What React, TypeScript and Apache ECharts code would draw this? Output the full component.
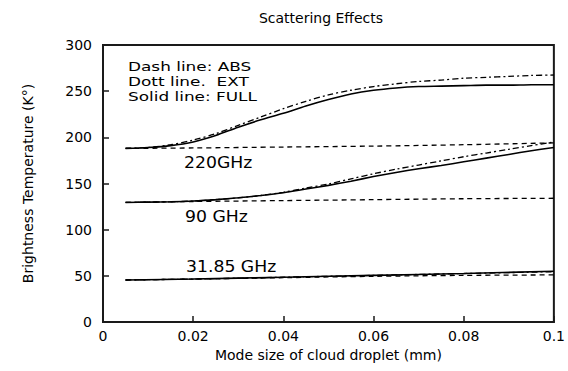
import React, { useEffect, useRef } from "react";
import * as echarts from "echarts";

const X_FINE = [0.005, 0.01, 0.015, 0.02, 0.025, 0.03, 0.035, 0.04, 0.045, 0.05, 0.055, 0.06, 0.065, 0.07, 0.075, 0.08, 0.085, 0.09, 0.095, 0.1];
const X_COARSE = [0.005, 0.02, 0.04, 0.06, 0.08, 0.1];

const full220 = [188, 189, 191, 195, 202, 211, 219, 226, 234, 241, 247, 251, 253.5, 255, 255.5, 256, 256.5, 256.5, 257, 257];
const ext220 = [188, 189, 192, 197, 204, 213, 222, 231, 239, 246, 251, 255, 258, 260.5, 262, 264, 265, 266, 267, 267.5];
const abs220 = [188, 188.5, 189.5, 190.5, 192, 194];

const full90 = [129.5, 129.8, 130.2, 131, 132.5, 134.5, 137, 140, 144, 148, 152.5, 157.5, 162, 166, 169.5, 173.5, 177.5, 181.5, 185.5, 189];
const ext90 = [129.5, 129.8, 130.2, 131, 132.5, 134.5, 137, 140.5, 145, 149.5, 155, 160.5, 165.5, 170, 174.5, 179, 183, 187, 191, 195];
const abs90 = [129.5, 130.5, 131.5, 132.5, 133.5, 134];

const full31 = [45.5, 46.5, 48.5, 50.5, 52.5, 55];
const ext31 = [45.5, 46.5, 48.5, 50.5, 52.5, 54.5];
const abs31 = [45.5, 46.5, 48, 49.5, 50.5, 51];

const legendLines = ["Dash line: ABS", "Dott line.  EXT", "Solid line: FULL"];
const freqLabels = ["220GHz", "90 GHz", "31.85 GHz"];

const FONT = "DejaVu Sans";
const INK = "#1a1a1a";

function pairs(xs: number[], ys: number[]) {
  return xs.map((x, i) => [x, ys[i]]);
}

export default function App() {
  const ref = useRef<HTMLDivElement>(null);
  useEffect(() => {
    if (!ref.current) return;
    const chart = echarts.init(ref.current, null, { renderer: "svg" });
    const solid = { color: "#000", width: 1.6, type: "solid" as const };
    const dash = { color: "#000", width: 1.3, type: [5, 4] as any };
    const dashDot = { color: "#000", width: 1.3, type: [6, 3, 2, 3] as any };
    const mk = (name: string, xs: number[], ys: number[], ls: any) => ({
      name,
      type: "line",
      data: pairs(xs, ys),
      smooth: 0.3,
      showSymbol: false,
      lineStyle: ls,
    });
    chart.setOption({
      animation: false,
      title: {
        text: "Scattering Effects",
        left: 316,
        top: 6,
        textAlign: "center",
        textStyle: { fontFamily: FONT, fontSize: 14, fontWeight: "normal", color: "#000" },
      },
      grid: { left: 103, right: 10, top: 45, bottom: 49, show: true, borderColor: INK, borderWidth: 2 },
      xAxis: {
        type: "value",
        min: 0,
        max: 0.1,
        interval: 0.02,
        name: "Mode size of cloud droplet (mm)",
        nameLocation: "middle",
        nameGap: 24,
        nameTextStyle: { fontFamily: FONT, fontSize: 14, color: "#000" },
        axisLabel: { fontFamily: FONT, fontSize: 14, color: "#000", margin: 7 },
        axisLine: { show: true, onZero: false, lineStyle: { color: INK, width: 2 } },
        axisTick: { show: true, inside: true, length: 6, lineStyle: { color: INK, width: 1.5 } },
        splitLine: { show: false },
      },
      yAxis: {
        type: "value",
        min: 0,
        max: 300,
        interval: 50,
        name: "Brightness Temperature (K°)",
        nameLocation: "middle",
        nameGap: 68,
        nameTextStyle: { fontFamily: FONT, fontSize: 14, color: "#000" },
        axisLabel: { fontFamily: FONT, fontSize: 14, color: "#000", margin: 11 },
        axisLine: { show: true, onZero: false, lineStyle: { color: INK, width: 2 } },
        axisTick: { show: true, inside: true, length: 6, lineStyle: { color: INK, width: 1.5 } },
        splitLine: { show: false },
      },
      graphic: [
        ...legendLines.map((t, i) => ({
          type: "text",
          x: 128,
          y: 67 + i * 15,
          scaleX: 1.3,
          style: { text: t, fontFamily: FONT, fontSize: 13, fill: "#000", textAlign: "left", textVerticalAlign: "middle" },
        })),
        ...freqLabels.map((t, i) => ({
          type: "text",
          x: [184, 185, 186][i],
          y: [163, 217, 267][i],
          scaleX: 1.15,
          style: { text: t, fontFamily: FONT, fontSize: 15, fill: "#000", textAlign: "left", textVerticalAlign: "middle" },
        })),
      ],
      series: [
        mk("FULL 220", X_FINE, full220, solid),
        mk("EXT 220", X_FINE, ext220, dashDot),
        mk("ABS 220", X_COARSE, abs220, dash),
        mk("FULL 90", X_FINE, full90, solid),
        mk("EXT 90", X_FINE, ext90, dashDot),
        mk("ABS 90", X_COARSE, abs90, dash),
        mk("FULL 31.85", X_COARSE, full31, solid),
        mk("EXT 31.85", X_COARSE, ext31, dashDot),
        mk("ABS 31.85", X_COARSE, abs31, dash),
      ],
    });
    return () => chart.dispose();
  }, []);
  return <div ref={ref} style={{ width: 568, height: 371, position: "absolute", left: 0, top: 0 }} />;
}
